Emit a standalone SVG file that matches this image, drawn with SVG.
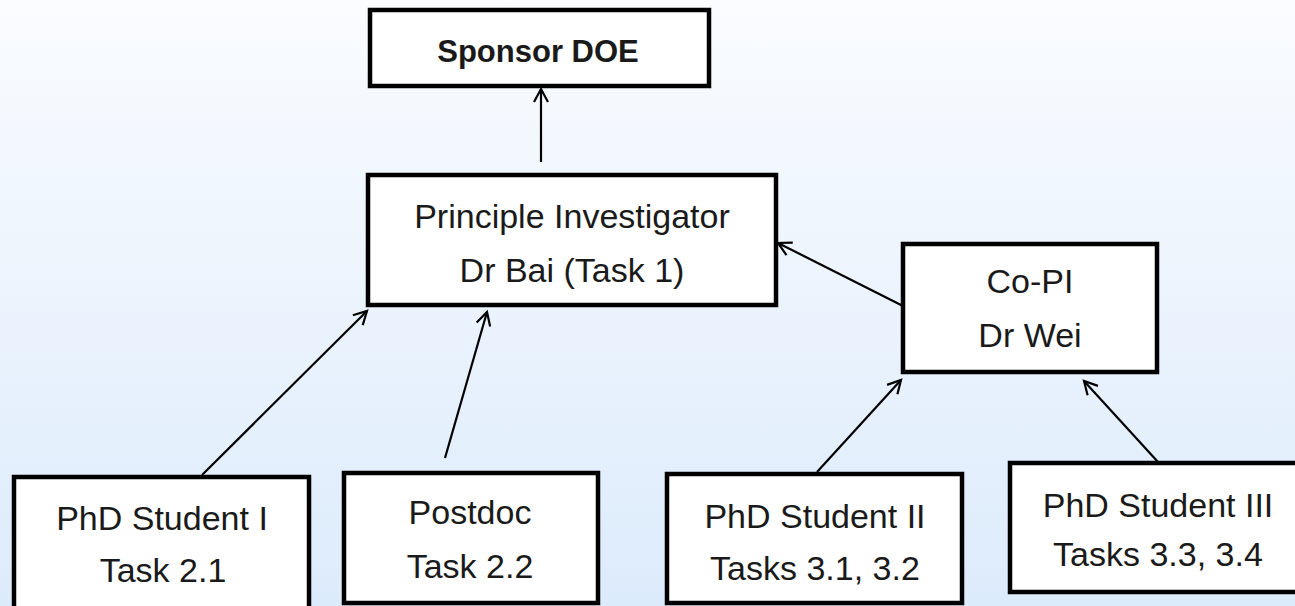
<svg xmlns="http://www.w3.org/2000/svg" width="1295" height="606" viewBox="0 0 1295 606">
  <defs>
    <linearGradient id="bg" x1="0" y1="0" x2="0" y2="1">
      <stop offset="0" stop-color="#fafcff"/>
      <stop offset="1" stop-color="#dcebfb"/>
    </linearGradient>
    <marker id="arr" markerUnits="userSpaceOnUse" markerWidth="20" markerHeight="20" viewBox="0 0 20 20" refX="17" refY="10" orient="auto">
      <path d="M4,3 L17,10 L4,17" fill="none" stroke="#000" stroke-width="2.2"/>
    </marker>
    <style>
      .box { fill: #ffffff; stroke: #000; stroke-width: 4.5; }
      .t { font-family: "Liberation Sans", Arial, sans-serif; font-size: 34px; fill: #1a1a1a; text-anchor: middle; }
      .b { font-weight: bold; font-size: 31px; }
      .c { fill: none; stroke: #000; stroke-width: 2.2; marker-end: url(#arr); }
    </style>
  </defs>
  <rect x="0" y="0" width="1295" height="606" fill="url(#bg)"/>

  <g id="connectors">
    <line class="c" x1="541" y1="162" x2="541" y2="89"/>
    <line class="c" x1="903" y1="306" x2="778" y2="243"/>
    <line class="c" x1="202" y1="475" x2="367" y2="311"/>
    <line class="c" x1="445" y1="458" x2="487" y2="312"/>
    <line class="c" x1="817" y1="472" x2="901" y2="380"/>
    <line class="c" x1="1158" y1="462" x2="1084" y2="381"/>
  </g>

  <g id="sponsor">
    <rect class="box" x="370" y="10" width="339" height="76"/>
    <text class="t b" x="538" y="62">Sponsor DOE</text>
  </g>
  <g id="pi">
    <rect class="box" x="368" y="175" width="408" height="130"/>
    <text class="t" x="572" y="228">Principle Investigator</text>
    <text class="t" x="572" y="282">Dr Bai (Task 1)</text>
  </g>
  <g id="copi">
    <rect class="box" x="903" y="244" width="254" height="128"/>
    <text class="t" x="1030" y="293">Co-PI</text>
    <text class="t" x="1030" y="347">Dr Wei</text>
  </g>
  <g id="student1">
    <rect class="box" x="14" y="477" width="295" height="140"/>
    <text class="t" x="162" y="530">PhD Student I</text>
    <text class="t" x="163" y="582">Task 2.1</text>
  </g>
  <g id="postdoc">
    <rect class="box" x="344" y="473" width="254" height="130"/>
    <text class="t" x="470" y="524">Postdoc</text>
    <text class="t" x="470" y="578">Task 2.2</text>
  </g>
  <g id="student2">
    <rect class="box" x="667" y="474" width="295" height="129"/>
    <text class="t" x="815" y="528">PhD Student II</text>
    <text class="t" x="815" y="580">Tasks 3.1, 3.2</text>
  </g>
  <g id="student3">
    <rect class="box" x="1010" y="463" width="296" height="129"/>
    <text class="t" x="1158" y="517">PhD Student III</text>
    <text class="t" x="1158" y="566">Tasks 3.3, 3.4</text>
  </g>
</svg>
